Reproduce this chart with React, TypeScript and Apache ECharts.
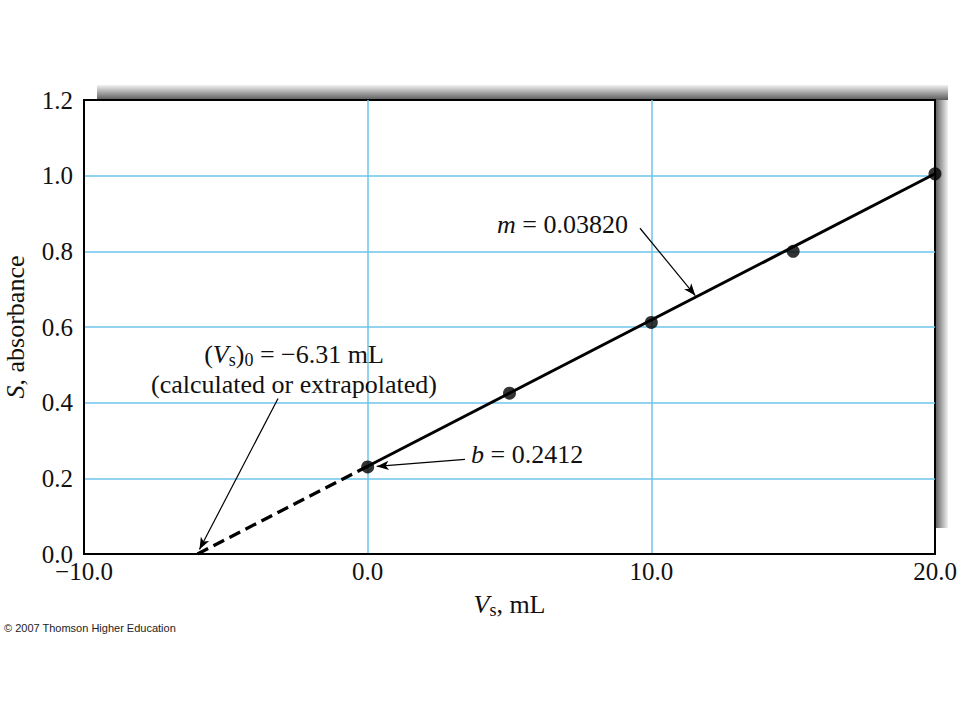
import React, { useEffect, useRef } from "react";
import * as echarts from "echarts";

const pointsX = [0, 5, 10, 15, 20];
const pointsY = [0.23, 0.425, 0.612, 0.8, 1.005];
// fitted line as drawn in the figure: [x, y] vertices
const dashedLineX = [-6.0, 0];
const dashedLineY = [0, 0.232];
const solidLineX = [0, 20];
const solidLineY = [0.232, 1.005];
const xTicks = [-10, 0, 10, 20];
const yTicks = [0, 0.2, 0.4, 0.6, 0.8, 1.0, 1.2];
const slopeText = "0.03820";
const interceptText = "0.2412";
const xInterceptText = "\u22126.31";

const SERIF = "'Liberation Serif', 'DejaVu Serif', serif";

export default function App() {
  const ref = useRef<HTMLDivElement>(null);
  useEffect(() => {
    const chart = echarts.init(ref.current!, null, { renderer: "svg" });
    const arrowLine = { color: "#000", width: 1.2, type: "solid" as const };
    const gridLine = { color: "#6ec4ec", width: 1.5 };
    const option: any = {
      animation: false,
      backgroundColor: "#fff",
      grid: {
        left: 84,
        top: 100,
        right: 25,
        bottom: 166,
        containLabel: false,
        outerBoundsMode: "none",
        show: true,
        backgroundColor: "#fff",
        borderColor: "#000",
        borderWidth: 2,
      },
      xAxis: {
        type: "value",
        min: xTicks[0],
        max: xTicks[xTicks.length - 1],
        interval: 10,
        axisLine: { show: true, onZero: false, lineStyle: { color: "#000", width: 2 } },
        axisTick: { show: false },
        splitLine: { show: true, showMinLine: false, showMaxLine: false, lineStyle: gridLine },
        axisLabel: {
          margin: 8,
          fontFamily: SERIF,
          fontSize: 25,
          lineHeight: 18,
          color: "#111",
          hideOverlap: false,
          formatter: (v: number) => (v < 0 ? "\u2212" + Math.abs(v).toFixed(1) : v.toFixed(1)),
        },
        name: "{i|V}{sub|s}, mL",
        nameLocation: "middle",
        nameGap: 35,
        nameTextStyle: {
          fontFamily: SERIF,
          fontSize: 26,
          color: "#111",
          rich: {
            i: { fontFamily: SERIF, fontSize: 26, fontStyle: "italic", color: "#111" },
            sub: { fontFamily: SERIF, fontSize: 18, color: "#111", padding: [12, 0, 0, 0] },
          },
        },
      },
      yAxis: {
        type: "value",
        min: yTicks[0],
        max: yTicks[yTicks.length - 1],
        interval: 0.2,
        axisLine: { show: true, onZero: false, lineStyle: { color: "#000", width: 2 } },
        axisTick: { show: false },
        splitLine: { show: true, showMinLine: false, showMaxLine: false, lineStyle: gridLine },
        axisLabel: {
          margin: 11,
          fontFamily: SERIF,
          fontSize: 25,
          lineHeight: 18,
          color: "#111",
          hideOverlap: false,
          formatter: (v: number) => v.toFixed(1),
        },
        name: "{i|S}, absorbance",
        nameLocation: "middle",
        nameRotate: 90,
        nameGap: 56,
        nameTextStyle: {
          fontFamily: SERIF,
          fontSize: 26,
          color: "#111",
          rich: {
            i: { fontFamily: SERIF, fontSize: 26, fontStyle: "italic", color: "#111" },
          },
        },
      },
      series: [
        {
          type: "line",
          data: dashedLineX.map((x, i) => [x, dashedLineY[i]]),
          symbol: "none",
          lineStyle: { color: "#000", width: 3.2, type: [12, 6] },
          z: 3,
        },
        {
          type: "line",
          data: solidLineX.map((x, i) => [x, solidLineY[i]]),
          symbol: "none",
          lineStyle: { color: "#000", width: 3 },
          z: 3,
          markLine: {
            silent: true,
            symbol: ["none", "arrow"],
            symbolSize: [7, 12],
            label: { show: false },
            lineStyle: arrowLine,
            data: [
              [{ coord: [9.6, 0.861] }, { coord: [11.55, 0.683] }],
              [{ coord: [3.43, 0.25] }, { coord: [0.32, 0.2315] }],
              [{ coord: [-3.16, 0.411] }, { coord: [-5.93, 0.012] }],
            ],
          },
        },
        {
          type: "scatter",
          data: pointsX.map((x, i) => [x, pointsY[i]]),
          symbol: "circle",
          symbolSize: 13,
          itemStyle: { color: "#000" },
          z: 5,
        },
      ],
      graphic: [
        {
          type: "rect",
          shape: { x: 97, y: 85, width: 851, height: 15 },
          style: {
            fill: new echarts.graphic.LinearGradient(0, 0, 0, 1, [
              { offset: 0, color: "#f2f2f2" },
              { offset: 1, color: "#5a5a5a" },
            ]),
          },
          z: -10,
        },
        {
          type: "rect",
          shape: { x: 935, y: 100, width: 13, height: 428 },
          style: {
            fill: new echarts.graphic.LinearGradient(0, 0, 1, 0, [
              { offset: 0, color: "#5a5a5a" },
              { offset: 1, color: "#f2f2f2" },
            ]),
          },
          z: -10,
        },
        {
          type: "text",
          left: 497,
          top: 211,
          style: {
            text: `{i|m} = ${slopeText}`,
            font: `26px ${SERIF}`,
            fill: "#111",
            rich: { i: { fontFamily: SERIF, fontSize: 26, fontStyle: "italic", fill: "#111" } },
          },
          z: 10,
        },
        {
          type: "text",
          left: 471,
          top: 441,
          style: {
            text: `{i|b} = ${interceptText}`,
            font: `26px ${SERIF}`,
            fill: "#111",
            rich: { i: { fontFamily: SERIF, fontSize: 26, fontStyle: "italic", fill: "#111" } },
          },
          z: 10,
        },
        {
          type: "text",
          x: 294,
          y: 354,
          style: {
            text: `({i|V}{sub|s}){sub|0} = ${xInterceptText} mL`,
            font: `26px ${SERIF}`,
            fill: "#111",
            align: "center",
            verticalAlign: "middle",
            rich: {
              i: { fontFamily: SERIF, fontSize: 26, fontStyle: "italic", fill: "#111" },
              sub: { fontFamily: SERIF, fontSize: 18, fill: "#111", padding: [12, 0, 0, 0] },
            },
          },
          z: 10,
        },
        {
          type: "text",
          x: 294,
          y: 384,
          style: {
            text: "(calculated or extrapolated)",
            font: `26px ${SERIF}`,
            fill: "#111",
            align: "center",
            verticalAlign: "middle",
          },
          z: 10,
        },
        {
          type: "text",
          left: 4,
          top: 622,
          style: {
            text: "\u00a9 2007 Thomson Higher Education",
            font: "11px 'Liberation Sans', Arial, sans-serif",
            fill: "#222",
          },
        },
      ],
    };
    chart.setOption(option);
    return () => chart.dispose();
  }, []);
  return (
    <div
      ref={ref}
      style={{ position: "fixed", left: 0, top: 0, width: 960, height: 720, background: "#fff" }}
    />
  );
}
